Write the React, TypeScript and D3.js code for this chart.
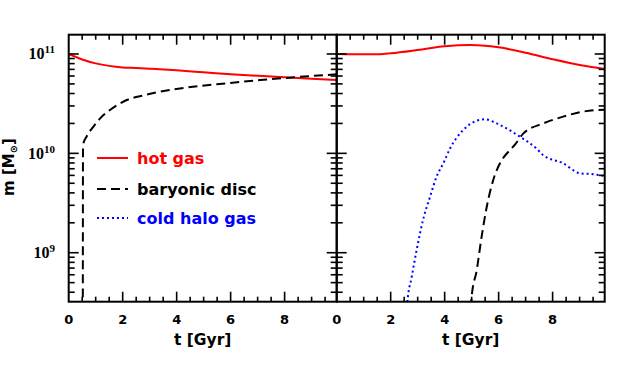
import React from "react";
import * as d3 from "d3";

// masses in units of 1e10 Msun
const hotLeftT = [0, 0.5, 1, 1.5, 2, 2.5, 3, 4, 5, 6, 7, 8, 9, 9.93];
const hotLeftM = [10, 8.81, 8.04, 7.59, 7.33, 7.24, 7.11, 6.84, 6.53, 6.24, 6.03, 5.82, 5.62, 5.47];

const discLeftT = [0.52, 0.53, 0.66, 0.91, 1.2, 1.53, 2.15, 2.8, 3.38, 4.6, 5.85, 7.09, 8.32, 9.93];
const discLeftM = [0.001, 1.22, 1.47, 1.85, 2.3, 2.73, 3.44, 3.85, 4.17, 4.68, 5.07, 5.47, 5.82, 6.24];

const hotRightT = [0, 1, 1.6, 2, 3, 4, 4.94, 5.5, 6, 7, 8, 9, 9.93];
const hotRightM = [10, 9.93, 9.95, 10.16, 10.96, 11.94, 12.3, 12.13, 11.66, 10.3, 8.85, 7.74, 7.06];

const coldRightT = [2.55, 2.62, 2.78, 2.96, 3.2, 3.46, 3.7, 3.95, 4.2, 4.69, 5.19, 5.49, 5.93, 6.79, 7.4, 7.65, 8.39, 9.01, 9.5, 9.93];
const coldRightM = [0.01, 0.032, 0.057, 0.106, 0.214, 0.366, 0.582, 0.794, 1.12, 1.72, 2.13, 2.2, 2.0, 1.47, 1.12, 0.96, 0.794, 0.63, 0.617, 0.59];

const discRightT = [4.95, 5.0, 5.19, 5.37, 5.56, 5.8, 6.05, 6.42, 6.6, 6.91, 7.65, 8.39, 9.13, 9.93];
const discRightM = [0.02, 0.036, 0.067, 0.145, 0.29, 0.54, 0.794, 1.08, 1.22, 1.58, 2.0, 2.34, 2.63, 2.75];

const xTickLabels = ["0", "2", "4", "6", "8"];
const yTickExps = ["9", "10", "11"];
const legendLabels = ["hot gas", "baryonic disc", "cold halo gas"];

const RED = "#ff0000";
const BLUE = "#0000ff";
const FONT = "'DejaVu Sans', sans-serif";
const SERIF = "'Liberation Serif', 'DejaVu Serif', serif";

export default function App() {
  const W = 638, H = 365;
  const top = 34.7, bottom = 301.7;
  const leftX0 = 68.7, mid = 336.7, rightX1 = 604.7;
  const tMax = 9.93;
  const xL = d3.scaleLinear().domain([0, tMax]).range([leftX0, mid]);
  const xR = d3.scaleLinear().domain([0, tMax]).range([mid, rightX1]);
  const y = d3.scaleLog().domain([Math.pow(10, 8.507), Math.pow(10, 11.194)]).range([bottom, top]);

  const mk = (x: d3.ScaleLinear<number, number>) =>
    d3.line<[number, number]>()
      .x(d => x(d[0]))
      .y(d => y(d[1] * 1e10))
      .curve(d3.curveMonotoneX);

  const zip = (t: number[], m: number[]) => t.map((v, i) => [v, m[i]] as [number, number]);

  const yTicks = y.ticks();
  const xTicks = d3.range(0, 10, 0.5);

  const panel = (x: d3.ScaleLinear<number, number>, x0: number, x1: number, key: string, showY: boolean) => (
    <g key={key}>
      {xTicks.map((t, i) => {
        const major = Math.abs(t % 2) < 1e-9;
        const len = major ? 10 : 5;
        const px = x(t);
        if (px <= x0 + 0.5 || px >= x1 - 0.5) return null;
        return (
          <g key={"xt" + i}>
            <line x1={px} x2={px} y1={bottom} y2={bottom - len} stroke="#000" strokeWidth={1.6} />
            <line x1={px} x2={px} y1={top} y2={top + len} stroke="#000" strokeWidth={1.6} />
          </g>
        );
      })}
      {yTicks.map((v, i) => {
        const lg = Math.log10(v);
        const major = Math.abs(lg - Math.round(lg)) < 1e-6;
        const len = major ? 10 : 6;
        const py = y(v);
        return (
          <g key={"yt" + i}>
            <line x1={x0} x2={x0 + len} y1={py} y2={py} stroke="#000" strokeWidth={1.6} />
            <line x1={x1} x2={x1 - len} y1={py} y2={py} stroke="#000" strokeWidth={1.6} />
          </g>
        );
      })}
      {xTickLabels.map((l, i) => (
        <text key={"xl" + i} x={x(+l)} y={323.5} textAnchor="middle" fontFamily={FONT} fontWeight="bold" fontSize={13}>{l}</text>
      ))}
      <text x={(x0 + x1) / 2} y={345} textAnchor="middle" fontFamily={FONT} fontWeight="bold" fontSize={15.5}>t [Gyr]</text>
      {showY && yTickExps.map((e, i) => (
        <text key={"yl" + i} x={55} y={y(Math.pow(10, +e)) + 5.5} textAnchor="end" fontFamily={SERIF} fontWeight="bold" fontSize={16}>
          10<tspan dy={-6} fontSize={11}>{e}</tspan>
        </text>
      ))}
    </g>
  );

  return (
    <svg width={W} height={H} style={{ position: "absolute", left: 0, top: 0, background: "#fff" }}>
      <defs>
        <clipPath id="cl"><rect x={leftX0} y={top} width={mid - leftX0} height={bottom - top} /></clipPath>
        <clipPath id="cr"><rect x={mid} y={top} width={rightX1 - mid} height={bottom - top} /></clipPath>
      </defs>
      <g clipPath="url(#cl)">
        <path d={mk(xL)(zip(hotLeftT, hotLeftM)) || ""} fill="none" stroke={RED} strokeWidth={2} />
        <path d={mk(xL)(zip(discLeftT, discLeftM)) || ""} fill="none" stroke="#000" strokeWidth={2} strokeDasharray="9,5" />
      </g>
      <g clipPath="url(#cr)">
        <path d={mk(xR)(zip(hotRightT, hotRightM)) || ""} fill="none" stroke={RED} strokeWidth={2} />
        <path d={mk(xR)(zip(coldRightT, coldRightM)) || ""} fill="none" stroke={BLUE} strokeWidth={2} strokeDasharray="2,3" />
        <path d={mk(xR)(zip(discRightT, discRightM)) || ""} fill="none" stroke="#000" strokeWidth={2} strokeDasharray="9,5" />
      </g>
      {panel(xL, leftX0, mid, "L", true)}
      {panel(xR, mid, rightX1, "R", false)}
      <rect x={leftX0} y={top} width={mid - leftX0} height={bottom - top} fill="none" stroke="#000" strokeWidth={2} />
      <rect x={mid} y={top} width={rightX1 - mid} height={bottom - top} fill="none" stroke="#000" strokeWidth={2} />
      <text transform="translate(14,167) rotate(-90)" textAnchor="middle" fontFamily={FONT} fontWeight="bold" fontSize={15}>
        m [M<tspan dy={3} fontSize={10}>⊙</tspan><tspan dy={-3}>]</tspan>
      </text>
      {legendLabels.map((l, i) => {
        const ly = [158, 189, 218][i];
        const color = [RED, "#000", BLUE][i];
        const dash = ["none", "9,5", "2,3"][i];
        return (
          <g key={"lg" + i}>
            <line x1={97} x2={128} y1={ly} y2={ly} stroke={color} strokeWidth={2} strokeDasharray={dash} />
            <text x={137} y={ly + 5.5} fontFamily={FONT} fontWeight="bold" fontSize={16} fill={color}>{l}</text>
          </g>
        );
      })}
    </svg>
  );
}
